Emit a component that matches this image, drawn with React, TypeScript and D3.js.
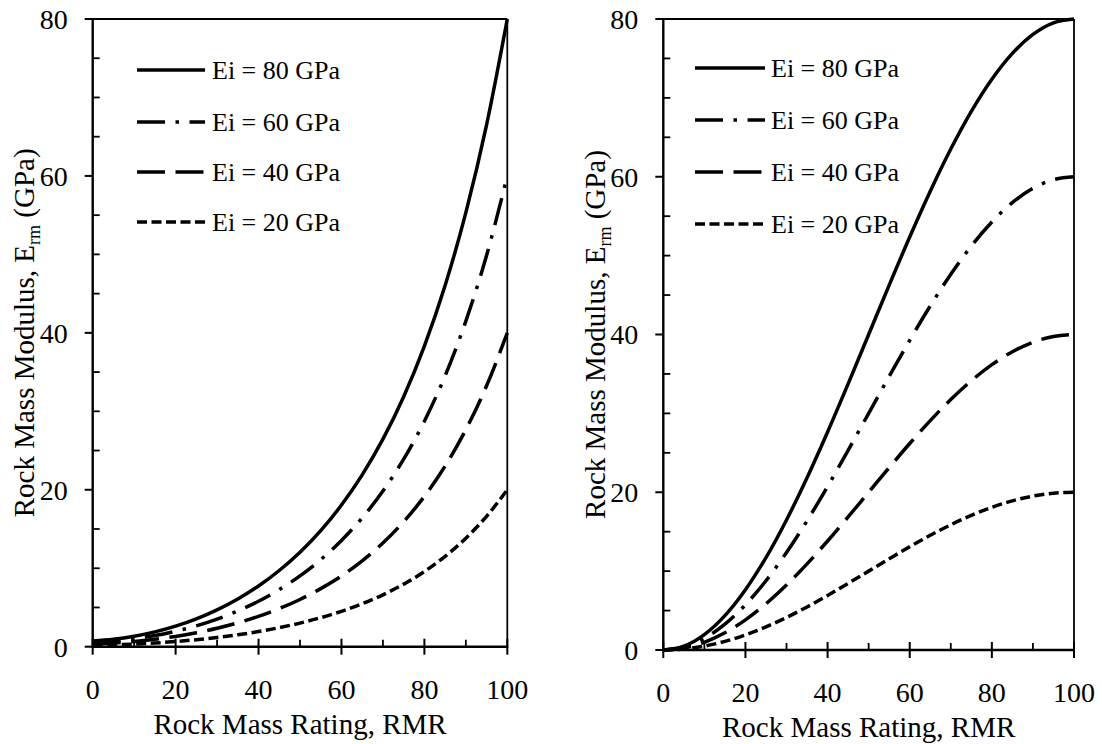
import React from 'react';
import * as d3 from 'd3';

// ---------- data ----------
const RMR = [0, 5, 10, 15, 20, 25, 30, 35, 40, 45, 50, 55, 60, 65, 70, 75, 80, 85, 90, 95, 100];

// Left panel
const LEFT_EI80 = [0.72, 0.95, 1.34, 1.89, 2.62, 3.55, 4.7, 6.08, 7.74, 9.71, 12.04, 14.79, 18.05, 21.9, 26.45, 31.86, 38.32, 46.04, 55.32, 66.5, 80];
const LEFT_EI60 = [0.54, 0.71, 1.01, 1.42, 1.97, 2.66, 3.52, 4.56, 5.8, 7.28, 9.03, 11.09, 13.54, 16.42, 19.84, 23.9, 28.74, 34.53, 41.49, 49.87, 60];
const LEFT_EI40 = [0.36, 0.48, 0.67, 0.95, 1.31, 1.78, 2.35, 3.04, 3.87, 4.86, 6.02, 7.4, 9.02, 10.95, 13.22, 15.93, 19.16, 23.02, 27.66, 33.25, 40];
const LEFT_EI20 = [0.18, 0.24, 0.34, 0.47, 0.66, 0.89, 1.17, 1.52, 1.93, 2.43, 3.01, 3.7, 4.51, 5.47, 6.61, 7.97, 9.58, 11.51, 13.83, 16.62, 20];

// Right panel
const RIGHT_EI80 = [0, 0.49, 1.96, 4.36, 7.64, 11.71, 16.49, 21.84, 27.64, 33.74, 40, 46.26, 52.36, 58.16, 63.51, 68.29, 72.36, 75.64, 78.04, 79.51, 80];
const RIGHT_EI60 = [0, 0.37, 1.47, 3.27, 5.73, 8.78, 12.37, 16.38, 20.73, 25.31, 30, 34.69, 39.27, 43.62, 47.63, 51.22, 54.27, 56.73, 58.53, 59.63, 60];
const RIGHT_EI40 = [0, 0.25, 0.98, 2.18, 3.82, 5.86, 8.24, 10.92, 13.82, 16.87, 20, 23.13, 26.18, 29.08, 31.76, 34.14, 36.18, 37.82, 39.02, 39.75, 40];
const RIGHT_EI20 = [0, 0.12, 0.49, 1.09, 1.91, 2.93, 4.12, 5.46, 6.91, 8.44, 10, 11.56, 13.09, 14.54, 15.88, 17.07, 18.09, 18.91, 19.51, 19.88, 20];

const SERIES_LABELS = ['Ei = 80 GPa', 'Ei = 60 GPa', 'Ei = 40 GPa', 'Ei = 20 GPa'];
const X_TICKS = [0, 20, 40, 60, 80, 100];
const X_MINOR = [10, 30, 50, 70, 90];
const Y_TICKS = [0, 20, 40, 60, 80];
const Y_MINOR = [5, 10, 15, 25, 30, 35, 45, 50, 55, 65, 70, 75];

const X_TITLE = 'Rock Mass Rating, RMR';

// ---------- styles ----------
const FONT = '"Liberation Serif", "Times New Roman", Times, serif';
const LW = 3.5;
const DASHES = ['none', `${8 * LW},${3 * LW},${LW},${3 * LW}`, `${8 * LW},${3 * LW}`, '10,4.5'];

type PanelProps = {
  left: number;
  right: number;
  top: number;
  bottom: number;
  series: number[][];
  legX1: number;
  legX2: number;
  legTextX: number;
  legYs: number[];
  yTitleX: number;
  xTitleY: number;
  clipId: string;
};

function Panel(p: PanelProps) {
  const x = d3.scaleLinear().domain([0, 100]).range([p.left, p.right]);
  const y = d3.scaleLinear().domain([0, 80]).range([p.bottom, p.top]);
  const line = d3
    .line<number>()
    .x((_, i) => x(RMR[i]))
    .y((d) => y(d))
    .curve(d3.curveMonotoneX);

  const cy = (p.top + p.bottom) / 2;
  const cx = (p.left + p.right) / 2;

  return (
    <g>
      <defs>
        <clipPath id={p.clipId}>
          <rect x={p.left - 2} y={p.top - 2} width={p.right - p.left + 4} height={p.bottom - p.top + 4} />
        </clipPath>
      </defs>
      {/* frame */}
      <line x1={p.left} x2={p.right} y1={p.top} y2={p.top} stroke="#000" strokeWidth={1.8} />
      <line x1={p.right} x2={p.right} y1={p.top} y2={p.bottom} stroke="#000" strokeWidth={1.8} />
      <line x1={p.left} x2={p.left} y1={p.top - 1} y2={p.bottom + 1} stroke="#000" strokeWidth={2.4} />
      <line x1={p.left - 1} x2={p.right + 1} y1={p.bottom} y2={p.bottom} stroke="#000" strokeWidth={2.4} />

      {/* y ticks */}
      {Y_TICKS.map((t) => (
        <g key={'yt' + t}>
          <line x1={p.left - 8} x2={p.left} y1={y(t)} y2={y(t)} stroke="#000" strokeWidth={2} />
          <text x={p.left - 25} y={y(t)} dy="0.35em" textAnchor="end" fontSize={28} fontFamily={FONT}>
            {t}
          </text>
        </g>
      ))}
      {Y_MINOR.map((t) => (
        <line key={'ym' + t} x1={p.left} x2={p.left + 7} y1={y(t)} y2={y(t)} stroke="#000" strokeWidth={1.8} />
      ))}

      {/* x ticks */}
      {X_TICKS.map((t) => (
        <g key={'xt' + t}>
          <line x1={x(t)} x2={x(t)} y1={p.bottom - 8} y2={p.bottom + 8} stroke="#000" strokeWidth={2} />
          <text x={x(t)} y={p.bottom + 52} textAnchor="middle" fontSize={28} fontFamily={FONT}>
            {t}
          </text>
        </g>
      ))}
      {X_MINOR.map((t) => (
        <line key={'xm' + t} x1={x(t)} x2={x(t)} y1={p.bottom - 7} y2={p.bottom} stroke="#000" strokeWidth={1.8} />
      ))}

      {/* curves */}
      <g clipPath={`url(#${p.clipId})`}>
        {p.series.map((s, i) => (
          <path
            key={'s' + i}
            d={line(s) || ''}
            fill="none"
            stroke="#000"
            strokeWidth={LW}
            strokeDasharray={DASHES[i]}
          />
        ))}
      </g>

      {/* legend */}
      {SERIES_LABELS.map((lab, i) => (
        <g key={'lg' + i}>
          <line
            x1={p.legX1}
            x2={p.legX2}
            y1={p.legYs[i]}
            y2={p.legYs[i]}
            stroke="#000"
            strokeWidth={LW}
            strokeDasharray={DASHES[i]}
          />
          <text x={p.legTextX} y={p.legYs[i]} dy="0.33em" fontSize={26} fontFamily={FONT}>
            {lab}
          </text>
        </g>
      ))}

      {/* axis titles */}
      <text x={cx} y={p.xTitleY} textAnchor="middle" fontSize={29} fontFamily={FONT}>
        {X_TITLE}
      </text>
      <text
        transform={`translate(${p.yTitleX},${cy}) rotate(-90)`}
        textAnchor="middle"
        fontSize={29}
        fontFamily={FONT}
      >
        Rock Mass Modulus, E
        <tspan fontSize={18} dy={6}>
          rm
        </tspan>
        <tspan dy={-6}> (GPa)</tspan>
      </text>
    </g>
  );
}

export default function App() {
  return (
    <svg
      width={1102}
      height={744}
      viewBox="0 0 1102 744"
      style={{ position: 'absolute', left: 0, top: 0, background: '#fff' }}
    >
      <rect x={0} y={0} width={1102} height={744} fill="#fff" />
      <Panel
        left={92.7}
        right={507.3}
        top={19}
        bottom={646.7}
        series={[LEFT_EI80, LEFT_EI60, LEFT_EI40, LEFT_EI20]}
        legX1={137}
        legX2={205}
        legTextX={212}
        legYs={[70, 122, 172, 222]}
        yTitleX={34}
        xTitleY={734}
        clipId="clipL"
      />
      <Panel
        left={663.3}
        right={1074}
        top={19}
        bottom={650}
        series={[RIGHT_EI80, RIGHT_EI60, RIGHT_EI40, RIGHT_EI20]}
        legX1={695}
        legX2={765}
        legTextX={771}
        legYs={[68, 120, 172, 224]}
        yTitleX={605}
        xTitleY={737}
        clipId="clipR"
      />
    </svg>
  );
}
